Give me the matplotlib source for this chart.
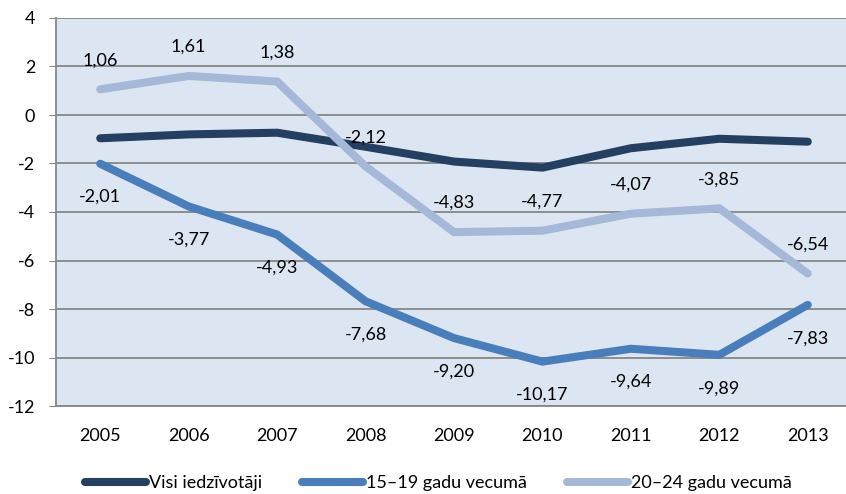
import matplotlib
matplotlib.use("Agg")
import matplotlib.pyplot as plt

plt.rcParams['font.family'] = ['Lato', 'DejaVu Sans']

years = ["2005", "2006", "2007", "2008", "2009", "2010", "2011", "2012", "2013"]
visi = [-0.96, -0.80, -0.73, -1.31, -1.92, -2.17, -1.37, -0.98, -1.10]
g15_19 = [-2.01, -3.77, -4.93, -7.68, -9.20, -10.17, -9.64, -9.89, -7.83]
g20_24 = [1.06, 1.61, 1.38, -2.12, -4.83, -4.77, -4.07, -3.85, -6.54]
names = ["Visi iedzīvotāji", "15–19 gadu vecumā", "20–24 gadu vecumā"]
colors = ["#243f60", "#4a7ebb", "#a5b8d7"]

fig = plt.figure(figsize=(8.46, 4.94), dpi=100)
ax = fig.add_axes([56/846, 88/494, 796/846, 388/494])
ax.set_facecolor("#dce6f2")

x = list(range(len(years)))
lw = 5.8
for vals, name, c in zip([visi, g15_19, g20_24], names, colors):
    ax.plot(x, vals, color=c, lw=lw, solid_capstyle='round', solid_joinstyle='miter', label=name, zorder=3)

def fmt(v):
    return f"{v:.2f}".replace(".", ",")

for xi, v in zip(x, g20_24):
    ax.annotate(fmt(v), (xi, v), xytext=(0, 21), textcoords='offset points',
                ha='center', va='center', fontsize=13, color='black', zorder=5)
for xi, v in zip(x, g15_19):
    ax.annotate(fmt(v), (xi, v), xytext=(0, -24), textcoords='offset points',
                ha='center', va='center', fontsize=13, color='black', zorder=5)

ax.set_xlim(-0.5, len(years) - 0.5)
ax.set_ylim(-12, 4)
ax.set_yticks(range(-12, 5, 2))
ax.set_yticklabels([str(t) for t in range(-12, 5, 2)])
ax.set_xticks(x)
ax.set_xticklabels(years)
ax.tick_params(axis='y', length=5, color='#868686', pad=10, labelsize=13)
ax.tick_params(axis='x', length=0, pad=16, labelsize=13)
ax.grid(axis='y', color='#868686', lw=1.3, zorder=1)
ax.set_axisbelow(True)
for s in ['top', 'right']:
    ax.spines[s].set_visible(False)
for s in ['left', 'bottom']:
    ax.spines[s].set_color('#868686')
    ax.spines[s].set_linewidth(1.3)

leg = fig.legend(loc='center', bbox_to_anchor=(0.518, 0.022), ncol=3, frameon=False,
                 fontsize=13, handlelength=3.4, handletextpad=0.15, columnspacing=2.2)
for h in leg.get_lines():
    h.set_linewidth(5.8)
    h.set_solid_capstyle('round')

fig.savefig("out.png", dpi=100)
